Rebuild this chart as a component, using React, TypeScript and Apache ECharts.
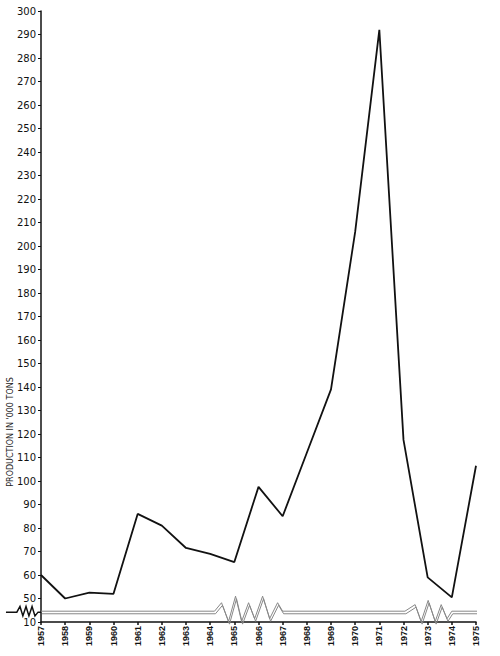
import React, { useEffect, useRef } from "react";
import * as echarts from "echarts";

const years = [
  "1957", "1958", "1959", "1960", "1961", "1962", "1963", "1964", "1965", "1966",
  "1967", "1968", "1969", "1970", "1971", "1972", "1973", "1974", "1975",
];
const production = [
  60, 50, 52.5, 52, 86, 81, 71.5, 69, 65.5, 97.5, 85, 112, 139, 206, 292, 117.5, 59, 50.5, 106.5,
];
const axisName = "PRODUCTION IN '000 TONS";

// axis-break decoration (in axis units: category index, value)
const breakX = [0, 7.18, 7.47, 7.76, 8.05, 8.3, 8.59, 8.84, 9.17, 9.46, 9.79, 10.0, 15.06, 15.48, 15.73, 16.02, 16.31, 16.56, 16.8, 17.0, 18.38];
const breakY = [44.6, 44.6, 48.2, 40.2, 51.0, 40.2, 48.2, 41.4, 51.0, 41.4, 48.2, 44.6, 44.6, 47.4, 40.2, 49.2, 40.2, 47.4, 41.4, 44.6, 44.6];
const breakGap = 1.1;
const leftBreakX = [-1.45, -1.0, -0.87, -0.75, -0.62, -0.5, -0.37, -0.25, -0.12, 0];
const leftBreakY = [44.2, 44.2, 46.6, 42.6, 46.6, 42.6, 46.6, 42.6, 44.2, 44.2];

export default function App() {
  const ref = useRef<HTMLDivElement>(null);
  useEffect(() => {
    if (!ref.current) return;
    const chart = echarts.init(ref.current, undefined, { renderer: "svg" });
    const font = "DejaVu Sans";
    chart.setOption({
      animation: false,
      backgroundColor: "#ffffff",
      grid: { left: 41, right: 24, top: 11, bottom: 34 },
      xAxis: [
        {
          type: "category",
          data: years,
          boundaryGap: false,
          axisLine: { lineStyle: { color: "#111", width: 1.5 } },
          axisTick: { show: true, length: 3, lineStyle: { color: "#111", width: 1.5 } },
          axisLabel: {
            rotate: 90,
            margin: 4,
            fontSize: 9,
            fontWeight: "bold",
            fontFamily: "Liberation Sans",
            color: "#111",
            interval: 0,
          },
          splitLine: { show: false },
        },
        { type: "value", min: 0, max: 18, show: false },
      ],
      yAxis: {
        type: "value",
        min: 40,
        max: 300,
        interval: 10,
        axisLine: { show: true, lineStyle: { color: "#111", width: 1.5 } },
        axisTick: { show: true, length: 3, lineStyle: { color: "#111", width: 1 } },
        axisLabel: {
          margin: 5,
          fontSize: 10,
          fontFamily: font,
          color: "#111",
          formatter: (v: number) => (v === 40 ? "10" : String(v)),
        },
        splitLine: { show: false },
      },
      graphic: [
        {
          type: "text",
          x: 10,
          y: 432,
          rotation: Math.PI / 2,
          style: {
            text: axisName,
            fontSize: 8,
            fontFamily: font,
            fill: "#222",
            align: "center",
            verticalAlign: "middle",
          },
        },
      ],
      series: [
        {
          type: "line",
          xAxisIndex: 1,
          data: breakX.map((x, i) => [x, breakY[i]]),
          symbol: "none",
          clip: false,
          lineStyle: { color: "#888", width: 1 },
          z: 1,
        },
        {
          type: "line",
          xAxisIndex: 1,
          data: breakX.map((x, i) => [x + 0.04, breakY[i] - breakGap]),
          symbol: "none",
          clip: false,
          lineStyle: { color: "#888", width: 1 },
          z: 1,
        },
        {
          type: "line",
          xAxisIndex: 0,
          data: production,
          symbol: "none",
          lineStyle: { color: "#111", width: 1.8 },
          z: 4,
        },
      ],
    });
    const pts = leftBreakX.map((x, i) =>
      chart.convertToPixel({ xAxisIndex: 1, yAxisIndex: 0 }, [x, leftBreakY[i]]) as number[]
    );
    chart.setOption({
      graphic: [
        {
          type: "text",
          x: 10,
          y: 432,
          rotation: Math.PI / 2,
          style: {
            text: axisName,
            fontSize: 8,
            fontFamily: font,
            fill: "#222",
            align: "center",
            verticalAlign: "middle",
          },
        },
        {
          type: "polyline",
          shape: { points: pts },
          style: { stroke: "#111", lineWidth: 1.5, fill: "none" },
          z: 10,
        },
      ],
    });
    return () => chart.dispose();
  }, []);
  return (
    <div
      ref={ref}
      style={{ position: "absolute", left: 0, top: 0, width: 500, height: 656, background: "#fff" }}
    />
  );
}
